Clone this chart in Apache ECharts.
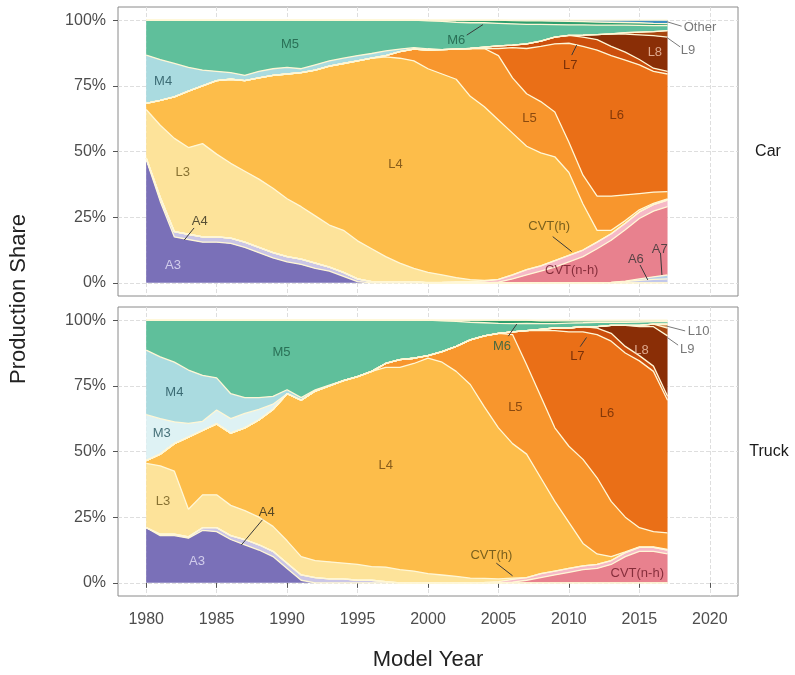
<!DOCTYPE html>
<html>
<head>
<meta charset="utf-8">
<title>Transmission production share</title>
<script src="https://cdn.jsdelivr.net/npm/echarts@6/dist/echarts.min.js"></script>
<style>
  html, body { margin: 0; padding: 0; background: #fff; }
  #chart { width: 795px; height: 675px; }
</style>
</head>
<body>
<div id="chart"></div>
<script>
// axis categories (panel runs a little past the data on both sides)
const axisYears = ['1978', '1979', '1980', '1981', '1982', '1983', '1984', '1985', '1986', '1987',
  '1988', '1989', '1990', '1991', '1992', '1993', '1994', '1995', '1996', '1997', '1998', '1999',
  '2000', '2001', '2002', '2003', '2004', '2005', '2006', '2007', '2008', '2009', '2010', '2011',
  '2012', '2013', '2014', '2015', '2016', '2017', '2018', '2019', '2020', '2021', '2022'];
const firstDataYear = 1980; // values below run 1980 .. 2017
const yTicks = [0, 25, 50, 75, 100];

// ---- Car, production share in % per model year 1980-2017 ----
const carA3 = [47, 31, 17.5, 16.5, 15.5, 15.5, 15, 13.5, 11.5, 9.5, 8, 7, 5.5, 4.5, 2.5, 0.5,
  0, 0, 0, 0, 0, 0, 0, 0, 0, 0, 0, 0, 0, 0, 0, 0, 0, 0, 0, 0, 0, 0];
const carA4 = [0.5, 1.5, 2, 2, 2, 2, 2, 2, 2, 2, 2, 2, 2, 1.5, 1.5, 1, 0.5, 0.5, 0.5, 0.5,
  0, 0, 0, 0, 0, 0, 0, 0, 0, 0, 0, 0, 0, 0, 0, 0, 0, 0];
const carA6 = [0, 0, 0, 0, 0, 0, 0, 0, 0, 0, 0, 0, 0, 0, 0, 0, 0, 0, 0, 0, 0, 0, 0, 0, 0, 0, 0, 0, 0, 0, 0, 0, 0,
  0.2, 0.5, 1, 1.3, 1.5];
const carA7 = [0, 0, 0, 0, 0, 0, 0, 0, 0, 0, 0, 0, 0, 0, 0, 0, 0, 0, 0, 0, 0, 0, 0, 0, 0, 0, 0, 0, 0, 0, 0, 0, 0, 0,
  0.2, 0.5, 1, 1.5];
const carCVTnh = [0, 0, 0, 0, 0, 0, 0, 0, 0, 0, 0, 0, 0, 0, 0, 0, 0, 0, 0, 0, 0, 0, 0, 0, 0,
  0.3, 1.5, 3, 4.5, 6, 8, 10, 13, 16, 19.5, 23, 25, 26];
const carCVTh = [0, 0, 0, 0, 0, 0, 0, 0, 0, 0, 0, 0, 0, 0, 0, 0, 0, 0, 0, 0,
  0.2, 0.3, 0.5, 0.5, 0.7, 1, 1.5, 2, 2, 2.5, 2.5, 2.5, 2.5, 2.5, 2.5, 2.5, 2.5, 2.5];
const carL3 = [18.5, 27.5, 35.5, 33, 35.5, 31.5, 28.5, 27, 26, 24.5, 22, 20, 18, 16, 16, 14.5, 12.5, 9.5, 7, 5,
  3.8, 2.7, 1.5, 0.7, 0.2, 0, 0, 0, 0, 0, 0, 0, 0, 0, 0, 0, 0, 0];
const carL4 = [2.3, 9.5, 15.8, 21.5, 22, 28, 32, 34.5, 38.5, 43,
  47.5, 51, 55.5, 60.5, 63.5, 68.5, 72.5, 76, 78, 79,
  77.5, 76.5, 75.5, 69.8, 66.1, 60.7, 54, 47, 43, 39.5,
  31.5, 17.5, 4.5, 1.3, 1, 0.8, 0.5, 0.5];
const carL5 = [0, 0, 0, 0, 0, 0, 0, 0, 0, 0, 0, 0, 0, 0, 0, 0, 0,
  0.5, 2.5, 4.5, 7.1, 9.3, 11.5, 18.2, 22.2, 24.5, 21, 20, 19.5, 17, 11.5, 11, 13, 13, 9.8, 6.2, 4.2, 2.7];
const carL6 = [0, 0, 0, 0, 0, 0, 0, 0, 0, 0, 0, 0, 0, 0, 0, 0, 0, 0, 0, 0, 0, 0, 0, 0, 0,
  2.7, 11.5, 17.2, 21, 26, 37.7, 49, 55.6, 53.5, 51.3, 49, 46, 44.8];
const carL7 = [0, 0, 0, 0, 0, 0, 0, 0, 0, 0, 0, 0, 0, 0, 0, 0, 0, 0, 0, 0, 0, 0, 0, 0,
  0.5, 1, 1, 1.8, 2, 2.5, 3, 3.5, 4, 3.5, 3, 2, 1.2, 1];
const carL8 = [0, 0, 0, 0, 0, 0, 0, 0, 0, 0, 0, 0, 0, 0, 0, 0, 0, 0, 0, 0, 0, 0, 0, 0, 0, 0, 0, 0, 0, 0, 0,
  0.8, 1.9, 4.8, 6.9, 9.4, 12.4, 13];
const carL9 = [0, 0, 0, 0, 0, 0, 0, 0, 0, 0, 0, 0, 0, 0, 0, 0, 0, 0, 0, 0, 0, 0, 0, 0, 0, 0, 0, 0, 0, 0, 0, 0, 0, 0,
  0.5, 1, 1.5, 2.5];
const carM4 = [18.4, 15.5, 12.7, 9, 6, 3.5, 2.5, 2, 2.5, 2.5, 2.5, 1.5, 2, 2, 2, 2, 1.8, 1.8, 1, 0.5, 0.5,
  0, 0, 0, 0, 0, 0, 0, 0, 0, 0, 0, 0, 0, 0, 0, 0, 0];
const carM5 = [13.3, 15, 16.5, 18, 19, 19.5, 20, 21, 19.5, 18.5,
  18, 18.5, 17, 15.5, 14.5, 13.5, 12.7, 11.7, 11, 10.5,
  10.6, 10.7, 10.2, 9.8, 9.3, 8.6, 8.1, 7.4, 6.4, 4.8,
  4, 3.9, 3.6, 3.3, 2.9, 2.6, 2.3, 1.9];
const carM6 = [0, 0, 0, 0, 0, 0, 0, 0, 0, 0, 0, 0, 0, 0, 0, 0, 0, 0, 0, 0,
  0.3, 0.5, 0.8, 1, 1, 1.2, 1.2, 1.3, 1.3, 1.3, 1.3, 1.2, 1.2, 1.1, 1, 1, 0.9, 0.8];
const carOther = [0, 0, 0, 0, 0, 0, 0, 0, 0, 0, 0, 0, 0, 0, 0, 0, 0, 0, 0, 0, 0, 0, 0, 0, 0, 0,
  0.2, 0.3, 0.3, 0.4, 0.5, 0.6, 0.7, 0.8, 0.9, 1, 1.2, 1.3];

// ---- Truck, production share in % per model year 1980-2017 ----
const truckA3 = [21, 18, 18, 17, 20, 19.5, 16.5, 14.5, 12.5, 10, 5.5, 1,
  0, 0, 0, 0, 0, 0, 0, 0, 0, 0, 0, 0, 0, 0, 0, 0, 0, 0, 0, 0, 0, 0, 0, 0, 0, 0];
const truckA4 = [0, 0.5, 0.5, 0.5, 1, 1.5, 1.5, 2, 2, 2, 2, 2, 2, 1.5, 1.5, 1, 1, 0.5,
  0, 0, 0, 0, 0, 0, 0, 0, 0, 0, 0, 0, 0, 0, 0, 0, 0, 0, 0, 0];
const truckCVTnh = [0, 0, 0, 0, 0, 0, 0, 0, 0, 0, 0, 0, 0, 0, 0, 0, 0, 0, 0, 0, 0, 0, 0, 0, 0, 0,
  0.3, 1, 2, 3, 4, 5, 5.5, 7, 10, 12, 12, 11];
const truckCVTh = [0, 0, 0, 0, 0, 0, 0, 0, 0, 0, 0, 0, 0, 0, 0, 0, 0, 0, 0, 0, 0, 0, 0, 0,
  0.2, 0.5, 1, 1, 1.5, 1.5, 1.5, 1.5, 1.5, 1.5, 1.5, 1.5, 1.5, 1.5];
const truckL3 = [24.5, 26, 24, 10.5, 12.5, 12.5, 11.5, 11, 10.5, 9.5, 8.5, 7, 6.5, 6.5, 6, 6, 5.2, 5.5, 5, 4.5,
  3.5, 3, 2.5, 1.8, 1.5, 1, 0.5, 0, 0, 0, 0, 0, 0, 0, 0, 0, 0, 0];
const truckL4 = [1, 4.5, 10.5, 27.5, 24.5, 27, 27.5, 31.5, 37, 44.5,
  56, 59.5, 64.5, 67, 69.5, 71.5, 74.3, 76, 77, 79,
  82, 81, 78, 73.7, 65.3, 57.5, 51.2, 47, 36.5, 26.5,
  17.5, 8.5, 4, 1.5, 0.3, 0.2, 0.2, 0.2];
const truckL5 = [0, 0, 0, 0, 0, 0, 0, 0, 0, 0, 0, 0, 0, 0, 0, 0, 0,
  1.5, 3, 2, 1, 4, 9.5, 17, 27, 36, 41.5, 34, 31, 28, 29, 32, 29, 21, 13.2, 7.3, 5.8, 6.3];
const truckL6 = [0, 0, 0, 0, 0, 0, 0, 0, 0, 0, 0, 0, 0, 0, 0, 0, 0, 0, 0, 0, 0, 0, 0, 0, 0, 0,
  1, 13, 25, 37, 43.5, 48.5, 54.5, 61, 62.5, 63.5, 61, 50.5];
const truckL7 = [0, 0, 0, 0, 0, 0, 0, 0, 0, 0, 0, 0, 0, 0, 0, 0, 0, 0, 0, 0, 0, 0, 0, 0, 0, 0, 0, 0,
  0.5, 1, 1.5, 2, 2.5, 3, 2.5, 2, 2, 1.5];
const truckL8 = [0, 0, 0, 0, 0, 0, 0, 0, 0, 0, 0, 0, 0, 0, 0, 0, 0, 0, 0, 0, 0, 0, 0, 0, 0, 0, 0, 0, 0, 0, 0, 0,
  0.5, 3, 8, 11, 15, 23];
const truckL9 = [0, 0, 0, 0, 0, 0, 0, 0, 0, 0, 0, 0, 0, 0, 0, 0, 0, 0, 0, 0, 0, 0, 0, 0, 0, 0, 0, 0, 0, 0, 0, 0, 0, 0, 0,
  0.5, 1, 3];
const truckL10 = [0, 0, 0, 0, 0, 0, 0, 0, 0, 0, 0, 0, 0, 0, 0, 0, 0, 0, 0, 0, 0, 0, 0, 0, 0, 0, 0, 0, 0, 0, 0, 0, 0, 0, 0, 0, 0,
  1.5];
const truckM3 = [17.5, 13.5, 8.3, 5.2, 3.5, 5.3, 5.5, 5.5, 4, 2,
  0, 0, 0, 0, 0, 0, 0, 0, 0, 0, 0, 0, 0, 0, 0, 0, 0, 0, 0, 0, 0, 0, 0, 0, 0, 0, 0, 0];
const truckM4 = [24.6, 23.5, 22.7, 20.3, 17.5, 12.2, 9.5, 6, 4.5, 3, 1.5, 1, 0.5, 0.3,
  0, 0, 0, 0, 0, 0, 0, 0, 0, 0, 0, 0, 0, 0, 0, 0, 0, 0, 0, 0, 0, 0, 0, 0];
const truckM5 = [11.4, 14, 16, 19, 21, 22, 28, 29.5, 29.5, 29,
  26.5, 29.5, 26.5, 24.7, 23, 21.5, 19.5, 16.5, 15, 14.5,
  13.5, 11.7, 9.5, 6.7, 5, 3.8, 3.2, 2.8, 2.2, 1.7,
  1.9, 1.5, 1.7, 1.2, 1.2, 1.3, 0.9, 0.9];
const truckM6 = [0, 0, 0, 0, 0, 0, 0, 0, 0, 0, 0, 0, 0, 0, 0, 0, 0, 0, 0, 0, 0,
  0.3, 0.5, 0.8, 1, 1.2, 1.3, 1.2, 1, 1, 0.8, 0.7, 0.5, 0.5, 0.5, 0.4, 0.3, 0.3];
const truckOther = [0, 0, 0, 0, 0, 0, 0, 0, 0, 0, 0, 0, 0, 0, 0, 0, 0, 0, 0, 0, 0, 0, 0, 0, 0, 0, 0, 0,
  0.3, 0.3, 0.3, 0.3, 0.3, 0.3, 0.3, 0.3, 0.3, 0.3];

// in-panel labels: [model year, share %, text, text colour]
const carLabels = [
  [1990.2, 90.9, 'M5', '#1c5c45'], [2002.0, 92.4, 'M6', '#1c5c45'], [1981.2, 76.8, 'M4', '#21505a'],
  [1982.6, 42.2, 'L3', '#6a5518'], [1997.7, 44.9, 'L4', '#6a4510'], [1983.8, 23.2, 'A4', '#2e2a1c'],
  [1981.9, 6.5, 'A3', '#e6e2f7'], [2007.2, 62.7, 'L5', '#6e3608'], [2013.4, 63.9, 'L6', '#6a2a06'],
  [2010.1, 82.9, 'L7', '#5e2005'], [2016.1, 87.8, 'L8', '#f3c6ae'], [2019.3, 97.3, 'Other', '#555555'],
  [2018.45, 88.6, 'L9', '#555555'], [2008.6, 21.3, 'CVT(h)', '#5a4812'], [2010.2, 4.9, 'CVT(n-h)', '#6c1826'],
  [2014.75, 9.1, 'A6', '#333333'], [2016.45, 12.9, 'A7', '#333333']
];
const truckLabels = [
  [1989.6, 87.9, 'M5', '#1c5c45'], [1982.0, 72.4, 'M4', '#21505a'], [1981.1, 56.7, 'M3', '#21505a'],
  [1981.2, 30.9, 'L3', '#6a5518'], [1988.55, 26.9, 'A4', '#2e2a1c'], [1983.6, 8.1, 'A3', '#e6e2f7'],
  [1997.0, 44.6, 'L4', '#6a4510'], [2005.25, 89.9, 'M6', '#1c5c45'], [2010.6, 86.3, 'L7', '#5e2005'],
  [2015.15, 88.6, 'L8', '#f3c6ae'], [2019.2, 95.6, 'L10', '#555555'], [2018.4, 88.9, 'L9', '#555555'],
  [2006.2, 66.8, 'L5', '#6e3608'], [2012.7, 64.5, 'L6', '#6a2a06'], [2004.5, 10.6, 'CVT(h)', '#5a4812'],
  [2014.85, 3.7, 'CVT(n-h)', '#6c1826']
];
// leader lines: [year from, share from, year to, share to]
const carLeaders = [
  [1983.4, 20.9, 1982.7, 16.3], [2002.75, 94.3, 2003.9, 98.3], [2010.2, 86.7, 2010.55, 90.5],
  [2018.0, 97.7, 2016.95, 99.4], [2017.9, 89.8, 2016.95, 93.4], [2008.85, 17.6, 2010.2, 11.9],
  [2015.05, 6.8, 2015.6, 1.1], [2016.5, 11.4, 2016.6, 3.0]
];
const truckLeaders = [
  [1988.25, 24.0, 1986.75, 14.4], [2005.7, 93.9, 2006.3, 98.5], [2010.8, 89.9, 2011.25, 93.4],
  [2018.25, 95.9, 2016.95, 97.7], [2017.75, 90.5, 2016.98, 93.4], [2004.85, 7.5, 2006.0, 2.7]
];

const fills = {
  'A3': '#7a70b8', 'A4': '#cbc6e6', 'A6': '#c3c8ea', 'A7': '#b3cfe9',
  'CVT(n-h)': '#e8818e', 'CVT(h)': '#f6b9c7',
  'L3': '#fde39a', 'L4': '#fdbd4a', 'L5': '#f8962d', 'L6': '#ea6f17', 'L7': '#cc4f0c',
  'L8': '#8a2e06', 'L9': '#a8470f', 'L10': '#d9a066',
  'M3': '#def2f4', 'M4': '#aadbe0', 'M5': '#5fbf9b', 'M6': '#2f9e6d', 'Other': '#3d8fc2'
};

// bottom-to-top stacking order
const carLayers = [['A3', carA3], ['A4', carA4], ['A6', carA6], ['A7', carA7], ['CVT(n-h)', carCVTnh],
  ['CVT(h)', carCVTh], ['L3', carL3], ['L4', carL4], ['L5', carL5], ['L6', carL6], ['L7', carL7],
  ['L8', carL8], ['L9', carL9], ['M4', carM4], ['M5', carM5], ['M6', carM6], ['Other', carOther]];
const truckLayers = [['A3', truckA3], ['A4', truckA4], ['CVT(n-h)', truckCVTnh], ['CVT(h)', truckCVTh],
  ['L3', truckL3], ['L4', truckL4], ['L5', truckL5], ['L6', truckL6], ['L7', truckL7], ['L8', truckL8],
  ['L9', truckL9], ['L10', truckL10], ['M3', truckM3], ['M4', truckM4], ['M5', truckM5],
  ['M6', truckM6], ['Other', truckOther]];

const axisStart = +axisYears[0];
const axisEnd = +axisYears[axisYears.length - 1];
const onFive = (idx, val) => +val % 5 === 0;

function pad(values) {
  const out = axisYears.map(() => '-');
  values.forEach((v, i) => { out[firstDataYear - axisStart + i] = v; });
  return out;
}

function areaSeries(layers, gi) {
  return layers.map(([name, values]) => ({
    type: 'line',
    name: name,
    xAxisIndex: gi,
    yAxisIndex: gi,
    stack: 'panel' + gi,
    data: pad(values),
    symbol: 'none',
    silent: true,
    lineStyle: { color: '#fff7d6', width: 1.3 },
    areaStyle: { color: fills[name], opacity: 1 },
    itemStyle: { color: fills[name] },
    emphasis: { disabled: true }
  }));
}

// labels sit on a hidden continuous year axis so they can fall between years
function labelSeries(labels, leaders, gi) {
  return {
    type: 'scatter',
    xAxisIndex: 2 + gi,
    yAxisIndex: gi,
    symbolSize: 0,
    silent: true,
    z: 10,
    data: labels.map(l => ({ name: l[2], value: [l[0], l[1]], label: { color: l[3] } })),
    label: { show: true, position: 'inside', fontSize: 13, formatter: p => p.name },
    markLine: {
      silent: true,
      symbol: ['none', 'none'],
      label: { show: false },
      lineStyle: { color: '#3a3a3a', width: 1, type: 'solid' },
      data: leaders.map(d => [
        { coord: [d[0], d[1]], lineStyle: { color: d[0] > 2017.5 ? '#7a7a7a' : '#3a3a3a' } },
        { coord: [d[2], d[3]] }
      ])
    }
  };
}

const gridLine = { show: true, lineStyle: { color: '#dedede', width: 1, type: 'dashed' } };

function xAxisFor(gi, withLabels) {
  return {
    type: 'category',
    gridIndex: gi,
    data: axisYears,
    boundaryGap: false,
    axisLine: { show: false },
    axisTick: { show: withLabels, interval: onFive, length: 5, lineStyle: { color: '#555' } },
    axisLabel: { show: withLabels, interval: onFive, fontSize: 16, color: '#4d4d4d', margin: 16 },
    splitLine: Object.assign({ interval: onFive }, gridLine),
    name: withLabels ? 'Model Year' : '',
    nameLocation: 'middle',
    nameGap: 53,
    nameTextStyle: { fontSize: 22, color: '#222' }
  };
}

function yearAxisFor(gi) {
  return { type: 'value', gridIndex: gi, min: axisStart, max: axisEnd, show: false };
}

function yAxisFor(gi) {
  return {
    type: 'value',
    gridIndex: gi,
    min: -5,
    max: 105,
    axisLine: { show: false },
    axisTick: { show: true, length: 5, lineStyle: { color: '#555' }, customValues: yTicks },
    axisLabel: { fontSize: 16, color: '#4d4d4d', margin: 12, customValues: yTicks, formatter: v => v + '%' },
    splitLine: gridLine
  };
}

const chart = echarts.init(document.getElementById('chart'));
chart.setOption({
  animation: false,
  textStyle: { fontFamily: 'Liberation Sans, Arial, sans-serif' },
  grid: [
    { left: 118, right: 57, top: 7, height: 289, show: true, borderColor: '#8a8a8a', borderWidth: 1 },
    { left: 118, right: 57, top: 307, height: 289, show: true, borderColor: '#8a8a8a', borderWidth: 1 }
  ],
  xAxis: [xAxisFor(0, false), xAxisFor(1, true), yearAxisFor(0), yearAxisFor(1)],
  yAxis: [yAxisFor(0), yAxisFor(1)],
  graphic: [
    { type: 'text', x: 768, y: 152, style: { text: 'Car', fontSize: 16, fill: '#1a1a1a', align: 'center', verticalAlign: 'middle' } },
    { type: 'text', x: 769, y: 452, style: { text: 'Truck', fontSize: 16, fill: '#1a1a1a', align: 'center', verticalAlign: 'middle' } },
    { type: 'text', x: 19, y: 299, rotation: Math.PI / 2, style: { text: 'Production Share', fontSize: 22, fill: '#222', align: 'center', verticalAlign: 'middle' } }
  ],
  series: [
    ...areaSeries(carLayers, 0),
    ...areaSeries(truckLayers, 1),
    labelSeries(carLabels, carLeaders, 0),
    labelSeries(truckLabels, truckLeaders, 1)
  ]
});
</script>
</body>
</html>
